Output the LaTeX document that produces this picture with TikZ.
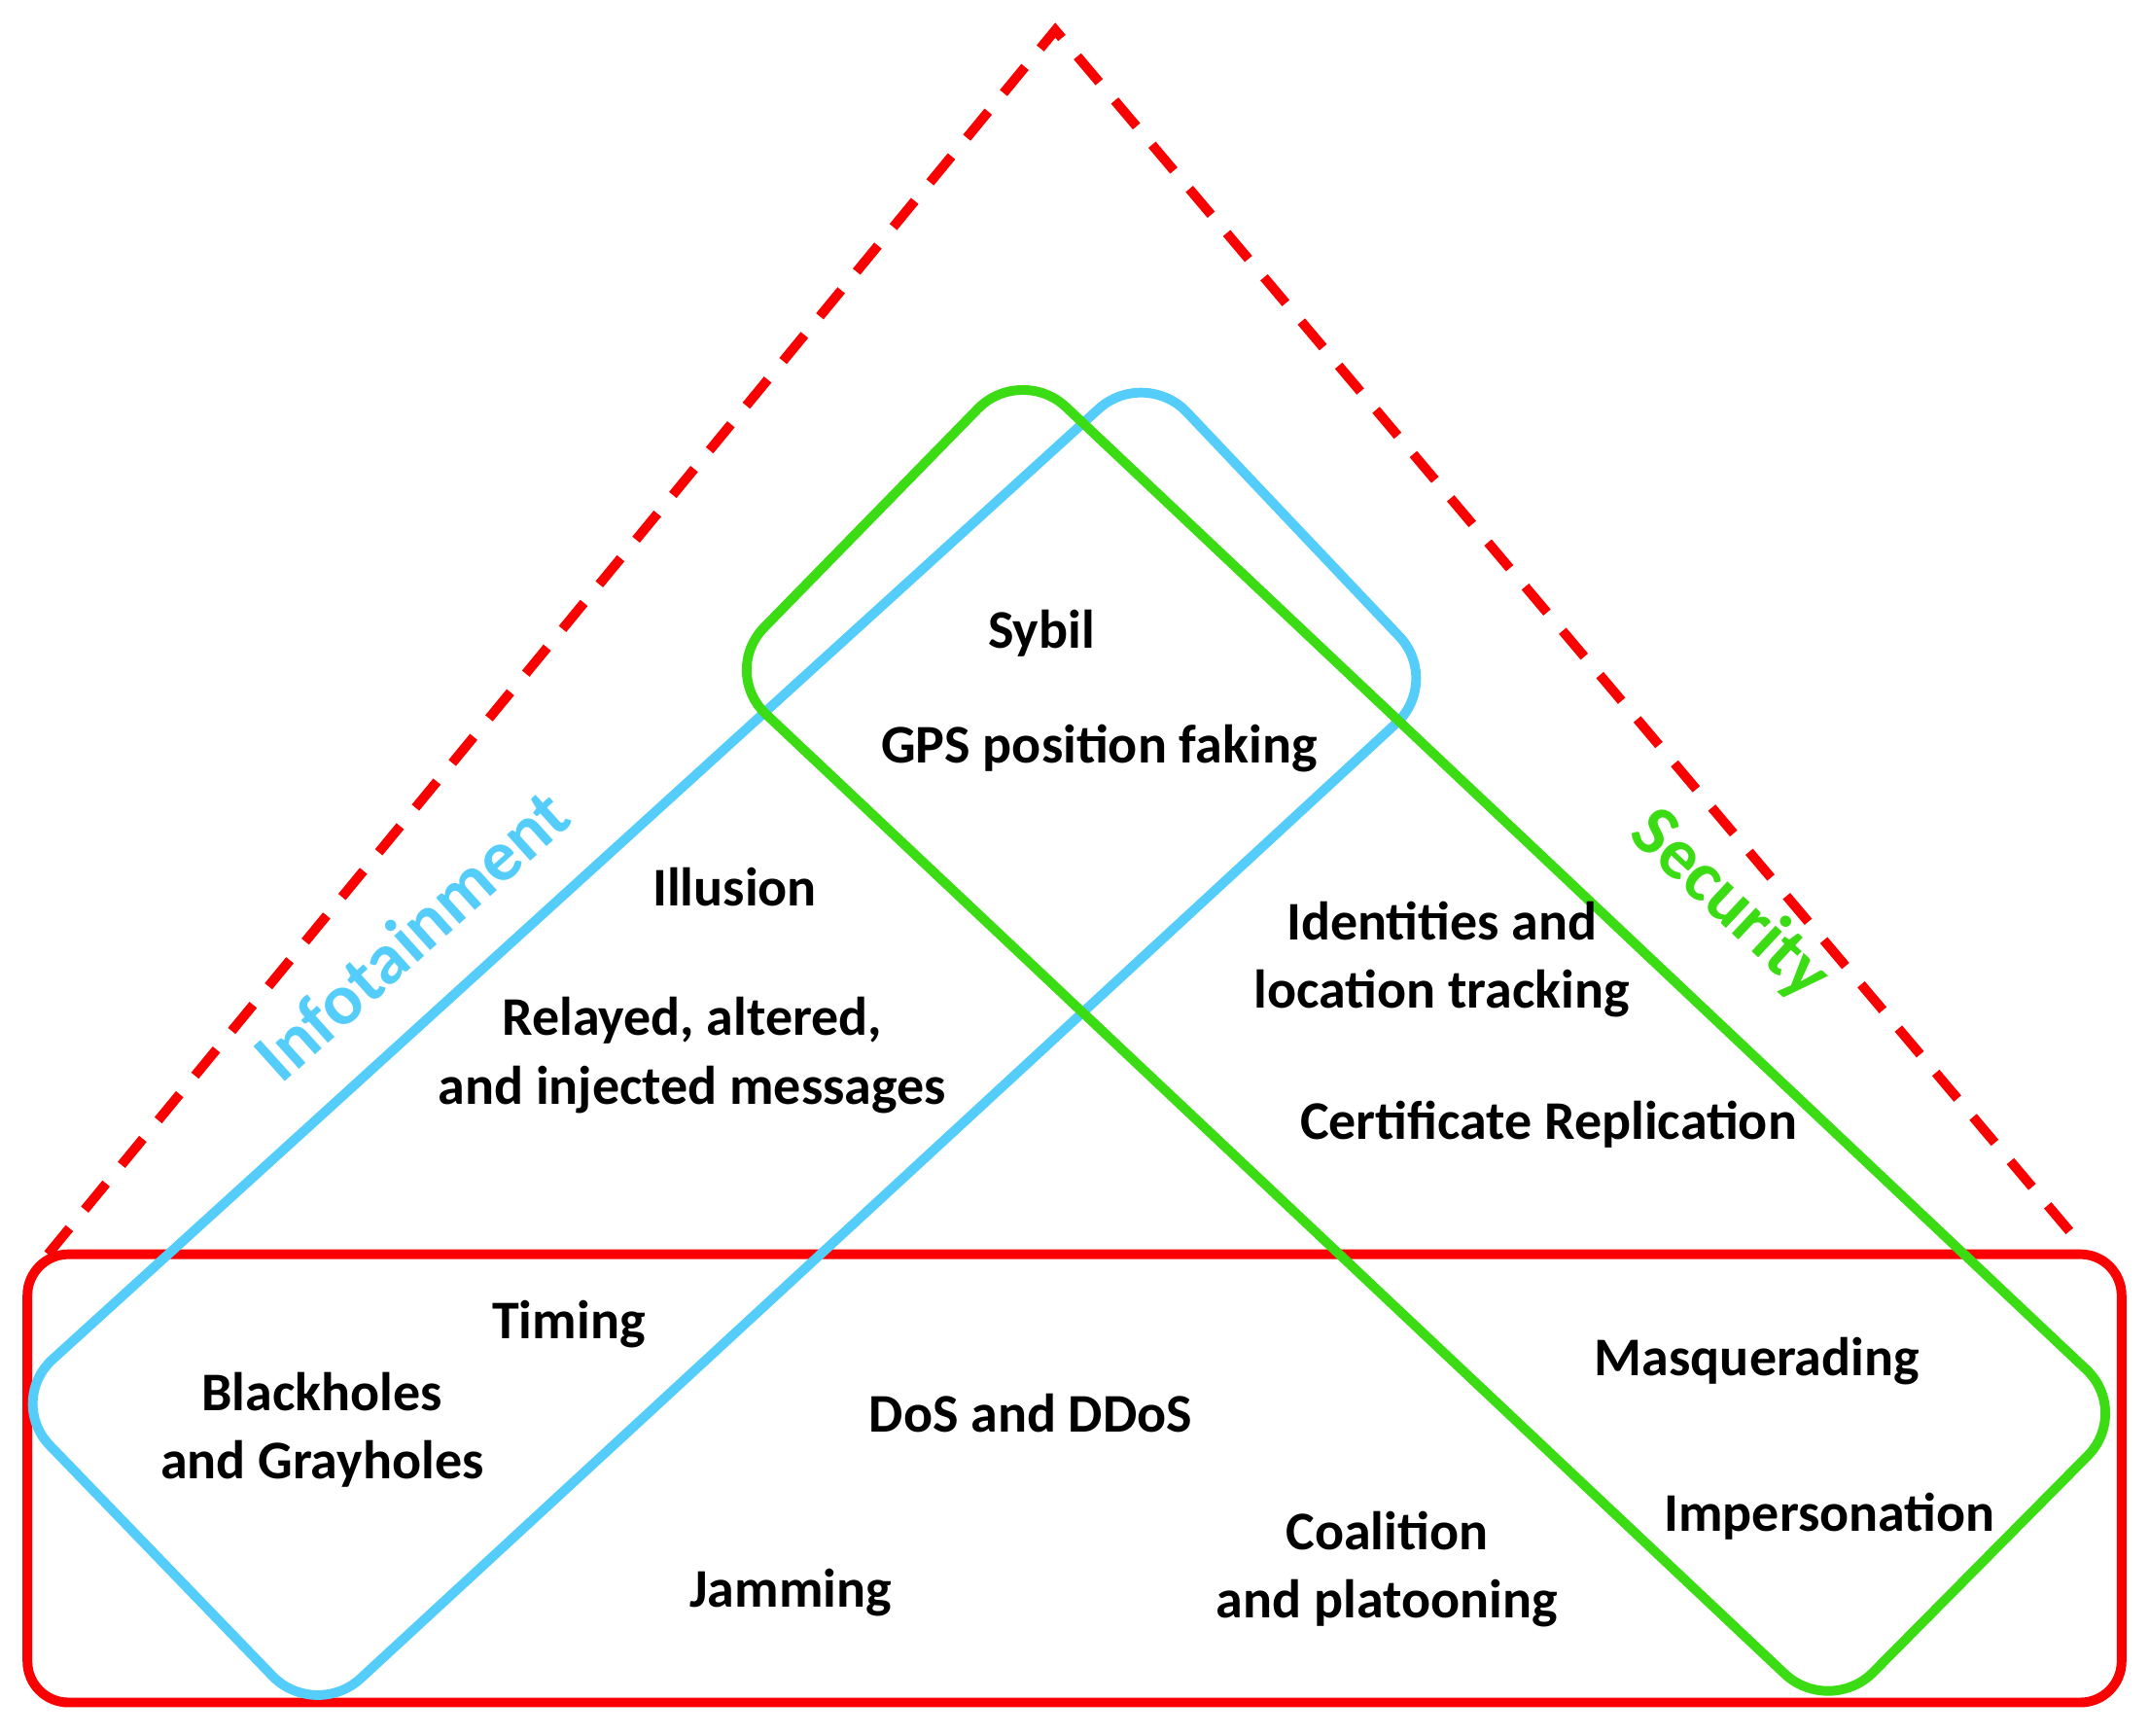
\documentclass[tikz,border=0pt]{standalone}
\usepackage{fontspec}
\setmainfont{Carlito}
\definecolor{cblue}{RGB}{85,205,250}
\definecolor{cgreen}{RGB}{60,220,20}
\definecolor{cred}{RGB}{250,0,0}
\begin{document}
\begin{tikzpicture}[x=0.01cm,y=-0.01cm,
  lbl/.style={font=\fontsize{11.3}{14.2}\selectfont\bfseries,align=center,inner sep=0pt},
  ttl/.style={font=\fontsize{15}{17}\selectfont\bfseries,inner sep=0pt}]
\useasboundingbox (0,0) rectangle (1568,1266);
\draw[cred,line width=2pt,dash pattern=on 7pt off 5pt] (35,915) -- (770,22) -- (1520,910);
\draw[cred,line width=2pt,rounded corners=0.3cm] (20,915) rectangle (1548,1242);
\draw[cblue,line width=2pt,rounded corners=0.45cm] (5,1022) -- (835,268) -- (1052,497) -- (230,1255) -- cycle;
\draw[cgreen,line width=2pt,rounded corners=0.45cm] (745,266) -- (1555,1030) -- (1335,1252) -- (526,490) -- cycle;
\node[ttl,cblue,rotate=42] (inf) at (300,682) {Infotainment};
\node[ttl,cgreen,rotate=-43] (sec) at (1262,660) {Security};
\node[lbl] (a) at (760,462) {Sybil};
\node[lbl] (b) at (802,546) {GPS position faking};
\node[lbl] (c) at (536,647) {Illusion};
\node[lbl] (d) at (505,770) {Relayed, altered,\\and injected messages};
\node[lbl] (e) at (1052,700) {Identities and\\location tracking};
\node[lbl] (f) at (1130,820) {Certificate Replication};
\node[lbl] (g) at (415,966) {Timing};
\node[lbl] (h) at (235,1043) {Blackholes\\and Grayholes};
\node[lbl] (i) at (752,1031) {DoS and DDoS};
\node[lbl] (j) at (1282,993) {Masquerading};
\node[lbl] (k) at (1335,1106) {Impersonation};
\node[lbl] (l) at (577,1162) {Jamming};
\node[lbl] (m) at (1012,1145) {Coalition\\and platooning};
\end{tikzpicture}
\end{document}
